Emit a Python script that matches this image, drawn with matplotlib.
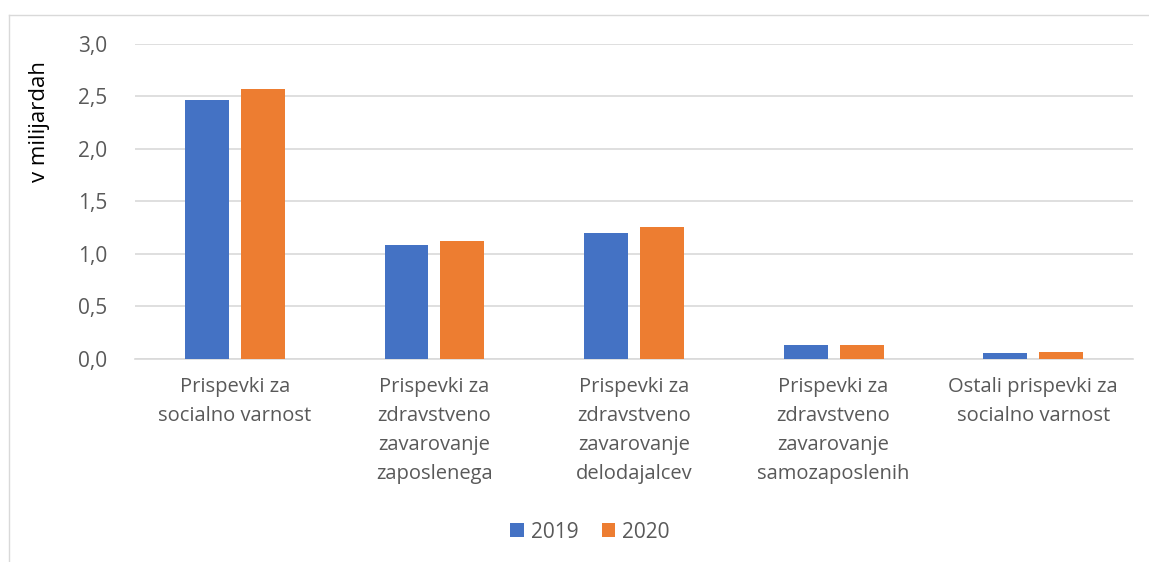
import matplotlib.pyplot as plt
from matplotlib.lines import Line2D
import numpy as np

# Data
categories = [
    "Prispevki za\nsocialno varnost",
    "Prispevki za\nzdravstveno\nzavarovanje\nzaposlenega",
    "Prispevki za\nzdravstveno\nzavarovanje\ndelodajalcev",
    "Prispevki za\nzdravstveno\nzavarovanje\nsamozaposlenih",
    "Ostali prispevki za\nsocialno varnost",
]
vals_2019 = [2.47, 1.08, 1.20, 0.13, 0.05]
vals_2020 = [2.57, 1.12, 1.25, 0.125, 0.065]
yticks = [0.0, 0.5, 1.0, 1.5, 2.0, 2.5, 3.0]
ytick_labels = ["0,0", "0,5", "1,0", "1,5", "2,0", "2,5", "3,0"]

blue = "#4472C4"
orange = "#ED7D31"
text_col = "#595959"
grid_col = "#D9D9D9"

plt.rcParams["font.family"] = ["Open Sans", "DejaVu Sans"]

W, H = 1149, 562
fig = plt.figure(figsize=(W / 100, H / 100), dpi=100)
ax = fig.add_axes([135 / W, (H - 358.5) / H, (1133 - 135) / W, (358.5 - 44) / H])

x = np.arange(len(categories))
bw = 0.22
off = 0.14
ax.bar(x - off, vals_2019, bw, color=blue, label="2019", zorder=3)
ax.bar(x + off, vals_2020, bw, color=orange, label="2020", zorder=3)

ax.set_xlim(-0.5, len(categories) - 0.5)
ax.set_ylim(0, 3.0)
ax.set_yticks(yticks)
ax.set_yticklabels(ytick_labels, fontsize=15)
ax.set_xticks(x)
ax.set_xticklabels(categories, fontsize=14.5, linespacing=1.6)
ax.tick_params(axis="both", length=0, colors=text_col)
ax.tick_params(axis="y", pad=20)
ax.tick_params(axis="x", pad=13)
ax.grid(axis="y", color=grid_col, linewidth=1.2, zorder=0)
for s in ["top", "right", "left"]:
    ax.spines[s].set_visible(False)
ax.spines["bottom"].set_color(grid_col)
ax.spines["bottom"].set_linewidth(1.2)

fig.text(40 / W, 1 - 121 / H, "v milijardah", rotation=90, ha="center", va="center",
         fontsize=16, color="black")

leg = fig.legend(loc="center", bbox_to_anchor=(590 / W, 1 - 532 / H), ncol=2, frameon=False,
                 fontsize=15, handlelength=0.65, handleheight=0.65, handletextpad=0.35,
                 columnspacing=1.1)
for t in leg.get_texts():
    t.set_color(text_col)

# chart area border
fig.add_artist(Line2D([9 / W, 9 / W], [0, 1 - 15 / H], color=grid_col, linewidth=1))
fig.add_artist(Line2D([9 / W, 1], [1 - 15 / H, 1 - 15 / H], color=grid_col, linewidth=1))

fig.savefig("out.png", dpi=100)
